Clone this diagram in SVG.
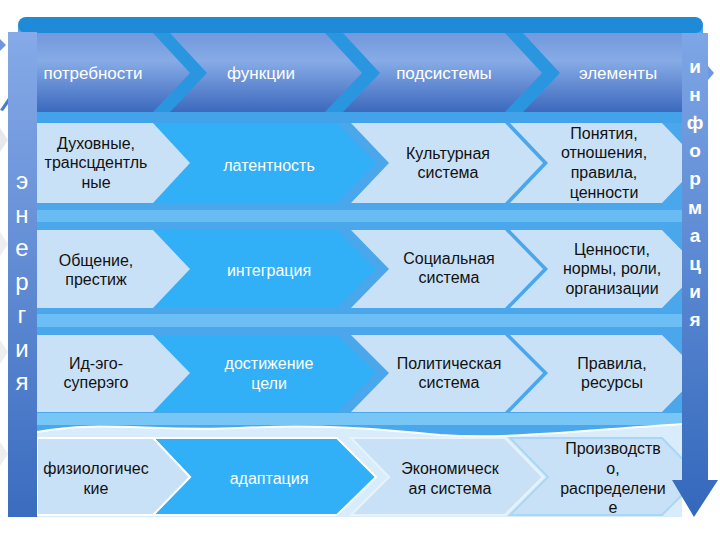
<svg xmlns="http://www.w3.org/2000/svg" width="720" height="540" viewBox="0 0 720 540">
<defs>
<linearGradient id="hg" x1="0" y1="0" x2="0" y2="1">
<stop offset="0" stop-color="#7398dc"/>
<stop offset="0.35" stop-color="#86abe6"/>
<stop offset="1" stop-color="#3c69bd"/>
</linearGradient>
<linearGradient id="bar" x1="0" y1="0" x2="0" y2="1">
<stop offset="0" stop-color="#86aae8"/>
<stop offset="1" stop-color="#3a6cbf"/>
</linearGradient>
<linearGradient id="bar2" x1="0" y1="0" x2="0" y2="1">
<stop offset="0" stop-color="#7ea6e6"/>
<stop offset="1" stop-color="#3468bc"/>
</linearGradient>
<style>
.pale{fill:#c9e1f7}
.bright{fill:#31b0f7}
.hdr{fill:url(#hg)}
text{font-family:"Liberation Sans",Arial,sans-serif;text-anchor:middle}
.th{font-size:17px;fill:#fff}
.td{font-size:16px;fill:#111}
.tw{font-size:16px;fill:#fff}
.vl{font-size:24px;fill:#fff}
.vr{font-size:19px;fill:#fff;font-weight:bold}
.r4{stroke:#fff;stroke-width:2}
</style>
</defs>
<rect width="720" height="540" fill="#fff"/>
<!-- background decorations -->
<path d="M0,39 L6,45 L0,51 Z" fill="#6f96de"/>
<path d="M0,110 L8,98 L8,104 L3,111 Z" fill="#4c7ccc"/>
<path d="M0,128 L8,140 L0,152 Z" fill="#e8e8ec"/>
<path d="M0,232 L8,244 L0,256 Z" fill="#eeeeef"/>
<path d="M0,340 L8,352 L0,364 Z" fill="#eeeeef"/>
<path d="M0,442 L8,454 L0,466 Z" fill="#eeeeef"/>
<!-- frame -->
<g id="frame">
<rect x="37" y="420" width="645" height="97" fill="#d8ecfb"/>
<path d="M18,30 Q18,17 31,17 H690 Q703,17 703,30 V423 C600,428 520,440 440,435 C380,429 320,424 240,428 C150,432 100,420 37,432 H18 Z" fill="#4aa7ec"/>
<rect x="18" y="17" width="685" height="16" rx="8" fill="#1f8ad8"/>
<rect x="37" y="33" width="645" height="80" fill="#2b96e0"/>
<rect x="37" y="112" width="645" height="11" fill="#42a2ea"/>
<rect x="37" y="210" width="645" height="12" fill="#68bbf3"/>
<rect x="37" y="314" width="645" height="13" fill="#6cbff5"/>
<rect x="37" y="413" width="645" height="12" fill="#78c6f6"/>
<path d="M37,432 C100,420 150,432 240,428 C320,424 380,429 440,435 C520,440 600,428 703,423" fill="none" stroke="#fff" stroke-width="2"/>
</g>
<!-- header -->
<g id="header">
<polygon class="hdr" points="37,33 153,33 190,73 153,112 37,112"/>
<polygon class="hdr" points="170,33 325,33 362,73 325,112 170,112 207,73"/>
<polygon class="hdr" points="343,33 505,33 542,73 505,112 343,112 380,73"/>
<polygon class="hdr" points="523,33 682,33 682,112 523,112 560,73"/>
<text class="th" x="93" y="79">потребности</text>
<text class="th" x="261" y="79">функции</text>
<text class="th" x="444" y="79">подсистемы</text>
<text class="th" x="618" y="79">элементы</text>
</g>
<!-- row 1 -->
<g id="row1">
<polygon class="bright" points="153,123 337,123 376,163 337,203 153,203 190,163"/>
<polygon class="pale" points="37,123 153,123 190,163 153,203 37,203"/>
<polygon class="pale" points="351,123 505,123 543,163 505,203 351,203 389,163"/>
<polygon class="pale" points="510,123 662,123 700,163 662,203 510,203 548,163"/>
<text class="td" x="96" y="148.5">Духовные,<tspan x="96" dy="19.5">трансцдентль</tspan><tspan x="96" dy="19.5">ные</tspan></text>
<text class="tw" x="269" y="170.5">латентность</text>
<text class="td" x="448" y="158.5">Культурная<tspan x="448" dy="19">система</tspan></text>
<text class="td" x="604" y="138.5">Понятия,<tspan x="604" dy="19.7">отношения,</tspan><tspan x="604" dy="19.7">правила,</tspan><tspan x="604" dy="19.7">ценности</tspan></text>
</g>
<!-- row 2 -->
<g id="row2">
<polygon class="bright" points="153,230 337,230 376,269 337,308 153,308 190,269"/>
<polygon class="pale" points="37,230 153,230 190,269 153,308 37,308"/>
<polygon class="pale" points="351,230 505,230 543,269 505,308 351,308 389,269"/>
<polygon class="pale" points="510,230 662,230 700,269 662,308 510,308 548,269"/>
<text class="td" x="96" y="265.5">Общение,<tspan x="96" dy="19">престиж</tspan></text>
<text class="tw" x="269" y="275.5">интеграция</text>
<text class="td" x="449" y="263.5">Социальная<tspan x="449" dy="19">система</tspan></text>
<text class="td" x="612" y="254.5">Ценности,<tspan x="612" dy="19.5">нормы, роли,</tspan><tspan x="612" dy="19.5">организации</tspan></text>
</g>
<!-- row 3 -->
<g id="row3">
<polygon class="bright" points="153,335 337,335 376,373 337,412 153,412 190,373"/>
<polygon class="pale" points="37,335 153,335 190,373 153,412 37,412"/>
<polygon class="pale" points="351,335 505,335 543,373 505,412 351,412 389,373"/>
<polygon class="pale" points="510,335 662,335 700,373 662,412 510,412 548,373"/>
<text class="td" x="96" y="368.5">Ид-эго-<tspan x="96" dy="19.5">суперэго</tspan></text>
<text class="tw" x="269" y="368.5">достижение<tspan x="269" dy="20">цели</tspan></text>
<text class="td" x="449" y="368.5">Политическая<tspan x="449" dy="19">система</tspan></text>
<text class="td" x="612" y="368.5">Правила,<tspan x="612" dy="19.5">ресурсы</tspan></text>
</g>
<!-- row 4 -->
<g id="row4">
<polygon class="bright r4" points="153,438 337,438 376,477 337,515 153,515 190,477"/>
<polygon class="pale r4" points="37,438 153,438 190,477 153,515 37,515"/>
<polygon class="pale" points="351,438 505,438 543,477 505,515 351,515 389,477" stroke="#e6f3fd" stroke-width="2"/>
<polygon class="pale" points="510,438 662,438 700,477 662,515 510,515 548,477" stroke="#a8d6f6" stroke-width="2"/>
<text class="td" x="96" y="473.5">физиологичес<tspan x="96" dy="20">кие</tspan></text>
<text class="tw" x="269" y="483.5">адаптация</text>
<text class="td" x="450" y="473.5">Экономическ<tspan x="450" dy="20">ая система</tspan></text>
<text class="td" x="613" y="453.5">Производств<tspan x="613" dy="20">о,</tspan><tspan x="613" dy="20">распределени</tspan><tspan x="613" dy="19">е</tspan></text>
</g>
<!-- energy bar -->
<g id="energy">
<rect x="8" y="32" width="29" height="485" fill="url(#bar)"/>
<text class="vl" x="22" y="189">э</text>
<text class="vl" x="22" y="223">н</text>
<text class="vl" x="22" y="256">е</text>
<text class="vl" x="22" y="290">р</text>
<text class="vl" x="22" y="323">г</text>
<text class="vl" x="22" y="357">и</text>
<text class="vl" x="22" y="390">я</text>
</g>
<!-- information arrow -->
<g id="information">
<path d="M708,66 L714,73 L708,80 Z" fill="#6f96de"/>
<path d="M682,33 H708 V480 H718 L694,517 L672,480 H682 Z" fill="url(#bar2)"/>
<text class="vr" x="695" y="73">и</text>
<text class="vr" x="695" y="101">н</text>
<text class="vr" x="695" y="129">ф</text>
<text class="vr" x="695" y="157">о</text>
<text class="vr" x="695" y="185">р</text>
<text class="vr" x="695" y="214">м</text>
<text class="vr" x="695" y="242">а</text>
<text class="vr" x="695" y="270">ц</text>
<text class="vr" x="695" y="298">и</text>
<text class="vr" x="695" y="326">я</text>
</g>
<g id="connectors"/>
</svg>
